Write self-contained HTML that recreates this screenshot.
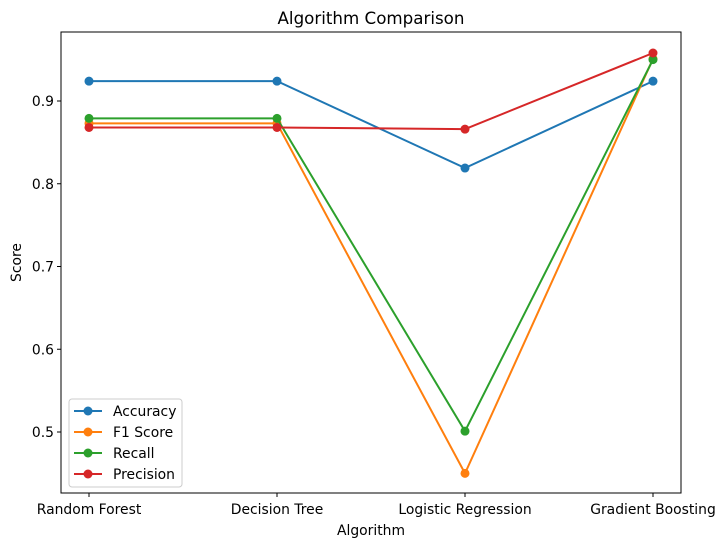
<!DOCTYPE html>
<html><head><meta charset="utf-8"><style>
body{margin:0;background:#fff;font-family:"Liberation Sans","DejaVu Sans",sans-serif}
</style></head><body>
<svg id="chart" width="725" height="547" xmlns="http://www.w3.org/2000/svg" font-family="DejaVu Sans, Liberation Sans, sans-serif">
<rect width="725" height="547" fill="#fff"/>
<g id="plot"></g>
</svg>
<script>
const categories=["Random Forest","Decision Tree","Logistic Regression","Gradient Boosting"];
const seriesNames=["Accuracy","F1 Score","Recall","Precision"];
const accuracy=[0.924,0.924,0.819,0.924];
const f1=[0.873,0.873,0.450,0.951];
const recall=[0.879,0.879,0.501,0.950];
const precision=[0.868,0.868,0.866,0.958];
const yTicks=[0.5,0.6,0.7,0.8,0.9];
const colors=["#1f77b4","#ff7f0e","#2ca02c","#d62728"];
const series=[accuracy,f1,recall,precision];
const L=61,R=681,T=32,B=493;
const xs=i=>89+i*188;
const ys=v=>432-(v-0.5)*827.5;
const ns="http://www.w3.org/2000/svg";
const g=document.getElementById('plot');
function mk(t,a,p){const e=document.createElementNS(ns,t);for(const k in a)e.setAttribute(k,a[k]);(p||g).appendChild(e);return e;}
yTicks.forEach(v=>{const y=ys(v);
mk('line',{x1:L-4,x2:L,y1:y,y2:y,stroke:'#000'});
const t=mk('text',{x:L-7,y:y+5,'text-anchor':'end','font-size':13.9});t.textContent=v.toFixed(1);

});
categories.forEach((c,i)=>{const x=xs(i);
mk('line',{x1:x,x2:x,y1:B,y2:B+4,stroke:'#000'});
const t=mk('text',{x:x,y:B+21,'text-anchor':'middle','font-size':13.9});t.textContent=c;

});
series.forEach((s,k)=>{
const pl=mk('polyline',{points:s.map((v,i)=>xs(i)+','+ys(v)).join(' '),fill:'none',stroke:colors[k],'stroke-width':2});


s.forEach((v,i)=>{const c=mk('circle',{cx:xs(i),cy:ys(v),r:4.5,fill:colors[k]});

});});
const fr=mk('rect',{x:L,y:T,width:R-L,height:B-T,fill:'none',stroke:'#000','stroke-width':1});


const ti=mk('text',{x:(L+R)/2,y:24,'text-anchor':'middle','font-size':16.7});ti.textContent='Algorithm Comparison';


const xl=mk('text',{x:(L+R)/2,y:535,'text-anchor':'middle','font-size':13.9});xl.textContent='Algorithm';


const yl=mk('text',{x:21,y:(T+B)/2,'text-anchor':'middle','font-size':13.9,transform:'rotate(-90 21 '+(T+B)/2+')'});yl.textContent='Score';


const lg=mk('g',{});


mk('rect',{x:69,y:399,width:113,height:88,rx:3,fill:'#fff',stroke:'#ccc','fill-opacity':0.8},lg);
seriesNames.forEach((n,k)=>{const y=411+k*21;
mk('line',{x1:74,x2:102,y1:y,y2:y,stroke:colors[k],'stroke-width':2},lg);
mk('circle',{cx:88,cy:y,r:4.5,fill:colors[k]},lg);
const t=mk('text',{x:113,y:y+5,'font-size':13.9},lg);t.textContent=n;

});
</script>
</body></html>
